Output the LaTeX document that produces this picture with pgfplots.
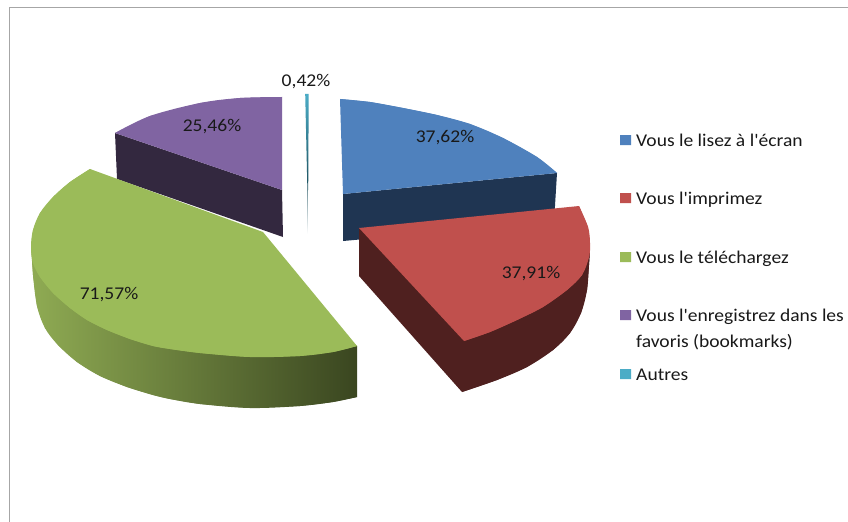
\documentclass[border=0pt]{standalone}
\usepackage{pgfplots}
\pgfplotsset{compat=1.18}
\usepackage{fontspec}
\setmainfont{Carlito}[Ligatures=TeXOff]
\definecolor{cblue}{HTML}{4F81BD}
\definecolor{cblueS}{HTML}{1F3552}
\definecolor{cred}{HTML}{C0504D}
\definecolor{credS}{HTML}{4F201F}
\definecolor{cgreen}{HTML}{9BBB59}
\definecolor{cgreenL}{HTML}{8FAB53}
\definecolor{cgreenD}{HTML}{3A4620}
\definecolor{cpurple}{HTML}{8064A2}
\definecolor{cpurpleS}{HTML}{33283F}
\definecolor{ccyan}{HTML}{4BACC6}
\definecolor{ccyanS}{HTML}{1C4F5C}
\definecolor{cframe}{HTML}{A6A6A6}
\pgfplotsset{
  poly/.style={draw=none,fill=#1,mark=none},
  arc/.style={smooth,tension=0.55,draw=none,fill=#1,mark=none},
  garc/.style={draw=none,left color=cgreenL,right color=cgreenD,mark=none}}
\newcommand{\lab}[3]{\node[anchor=base,inner sep=0pt,text=black!90] at (axis cs:#1,#2) {\fontsize{18}{20}\selectfont\scalebox{1.09}[1]{#3}};}
\newcommand{\leg}[3]{\node[anchor=base west,inner sep=0pt,text=black!90] at (axis cs:#1,#2) {\fontsize{18}{20}\selectfont\scalebox{1.09}[1]{#3}};}
\begin{document}
\begin{tikzpicture}
\begin{axis}[
  width=848bp,height=522bp,scale only axis,
  xmin=0,xmax=848,ymin=0,ymax=522,y dir=reverse,
  axis lines=none,clip=true]
% background and frame
\addplot[poly=white] coordinates {(0,0)(848,0)(848,522)(0,522)(0,0)};
\addplot[cframe,line width=1pt,mark=none] coordinates {(9.5,522)(9.5,7.5)(848,7.5)};
% blue
\addplot[poly=cblueS] coordinates {(343,194)(557,173)(554,222)(343,241)(343,194)};
\addplot[poly=cblue] coordinates {(343,194)(340,99)(370,102)(403,108)(437,115)(470,124)(503,138)(537,157)(557,173)(343,194)};
\addplot[arc=cblue] coordinates {(340,99)(370,102)(403,108)(437,115)(470,124)(503,138)(537,157)(557,173)};
% purple
\addplot[poly=cpurpleS] coordinates {(115,133)(282,190)(283,237)(117,179)(115,133)};
\addplot[poly=cpurple] coordinates {(282,190)(282,97)(240,98)(200,103)(150,116)(115,133)(282,190)};
\addplot[arc=cpurple] coordinates {(282,97)(240,98)(200,103)(150,116)(115,133)};
% cyan
\addplot[draw=none,shade,top color=ccyanS!60!white,bottom color=white,mark=none] coordinates {(307.4,190)(308.4,190)(308,234)(307.7,234)(307.4,190)};
\addplot[draw=none,shade,top color=ccyan,bottom color=ccyanS,mark=none] coordinates {(305.2,94)(308.7,94)(308.2,190)(307.4,190)(305.2,94)};
% green side: polygon and arc share the same x extent, so the same shading
\addplot[garc] coordinates {(31,243)(357,346)(357,397)(333,402)(300,406)(250,408)(200,404)(170,399)(153,395)(127,387)(100,376)(77,362)(58,345)(45,328)(37,306)(33,275)(31,243)};
\addplot[garc,smooth,tension=0.55] coordinates {(357,397)(333,402)(300,406)(250,408)(200,404)(170,399)(153,395)(127,387)(100,376)(77,362)(58,345)(45,328)(37,306)(33,275)(31,243)};
% green top
\addplot[poly=cgreen] coordinates {(90,169)(263,232)(357,346)(333,352)(300,356)(250,357)(200,353)(170,349)(153,346)(130,339)(107,330)(87,320)(70,308)(53,293)(40,277)(33,263)(31,247)(33,230)(40,213)(53,197)(70,182)(90,169)};
\addplot[arc=cgreen] coordinates {(357,346)(333,352)(300,356)(250,357)(200,353)(170,349)(153,346)(130,339)(107,330)(87,320)(70,308)(53,293)(40,277)(33,263)(31,247)(33,230)(40,213)(53,197)(70,182)(90,169)};
% red
\addplot[poly=credS] coordinates {(359,228)(590,250)(589,265)(587,290)(581,313)(570,333)(553,350)(527,367)(497,380)(462,392)(359,276)(359,228)};
\addplot[arc=credS] coordinates {(590,250)(589,265)(587,290)(581,313)(570,333)(553,350)(527,367)(497,380)(462,392)};
\addplot[poly=cred] coordinates {(359,228)(579,206)(588,227)(590,243)(589,257)(582,275)(567,290)(543,307)(517,320)(490,332)(464,341)(359,228)};
\addplot[arc=cred] coordinates {(579,206)(588,227)(590,243)(589,257)(582,275)(567,290)(543,307)(517,320)(490,332)(464,341)};
% legend keys
\addplot[poly=cblue] coordinates {(620,135)(631,135)(631,145)(620,145)(620,135)};
\addplot[poly=cred] coordinates {(620,193)(631,193)(631,203)(620,203)(620,193)};
\addplot[poly=cgreen] coordinates {(620,252)(631,252)(631,262)(620,262)(620,252)};
\addplot[poly=cpurple] coordinates {(620,310)(631,310)(631,320)(620,320)(620,310)};
\addplot[poly=ccyan] coordinates {(620,369)(631,369)(631,379)(620,379)(620,369)};
% labels
\lab{306}{87}{0,42\%}
\lab{445}{142}{37,62\%}
\lab{531}{278}{37,91\%}
\lab{109}{299}{71,57\%}
\lab{212}{131}{25,46\%}
\leg{636}{146}{Vous le lisez à l'écran}
\leg{636}{204}{Vous l'imprimez}
\leg{636}{263}{Vous le téléchargez}
\leg{636}{321}{Vous l'enregistrez dans les}
\leg{636}{347}{favoris (bookmarks)}
\leg{636}{380}{Autres}
\end{axis}
\end{tikzpicture}
\end{document}
